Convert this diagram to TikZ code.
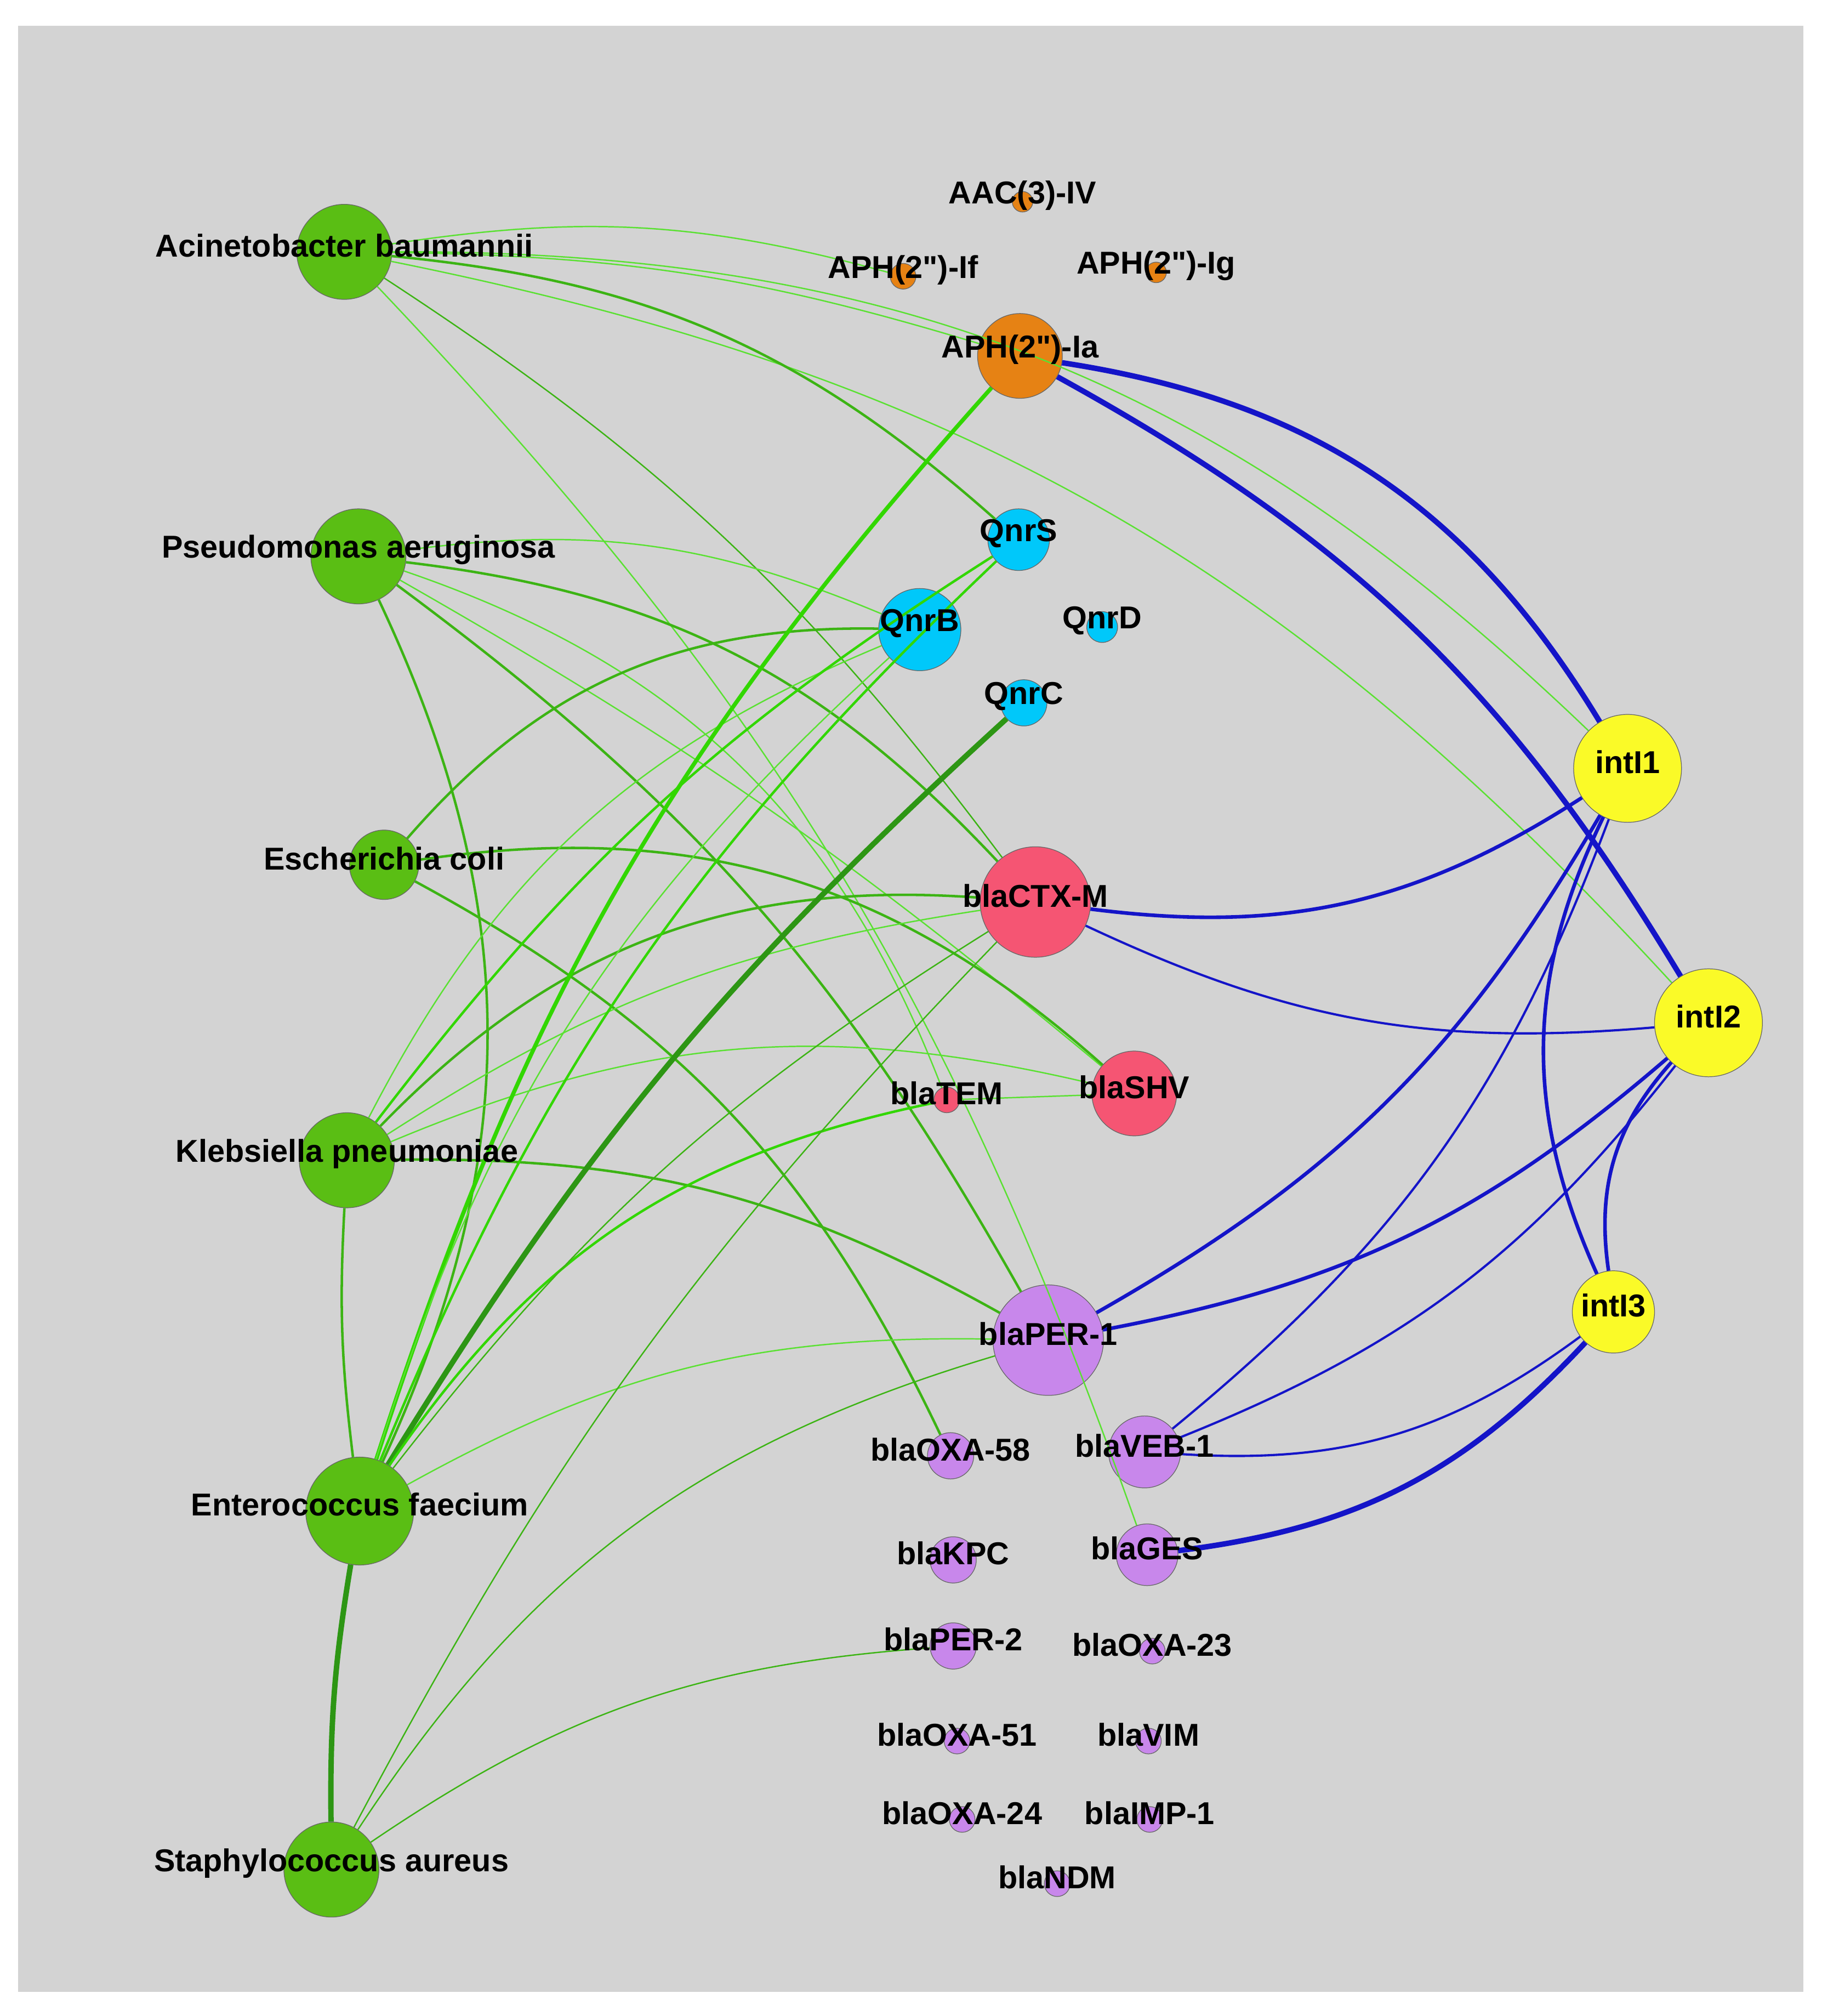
\documentclass[tikz,border=0pt]{standalone}
\usepackage{fontspec}
\setmainfont{Liberation Sans}
\definecolor{bgGray}{RGB}{211,211,211}
\definecolor{bactGreen}{RGB}{90,190,20}
\definecolor{aphOrange}{RGB}{230,130,20}
\definecolor{qnrCyan}{RGB}{0,200,250}
\definecolor{intYellow}{RGB}{250,250,40}
\definecolor{blaRed}{RGB}{245,85,115}
\definecolor{blaPurple}{RGB}{200,135,235}
\definecolor{eBright}{RGB}{50,215,0}
\definecolor{eMid}{RGB}{60,180,20}
\definecolor{eDark}{RGB}{45,150,20}
\definecolor{eLight}{RGB}{90,225,50}
\definecolor{eBlue}{RGB}{20,20,200}
\begin{document}
\begin{tikzpicture}[x=0.02cm,y=-0.02cm,
  nd/.style={circle,draw=black!60,line width=0.3pt,inner sep=0pt},
  bact/.style={nd,fill=bactGreen},
  aph/.style={nd,fill=aphOrange},
  qnr/.style={nd,fill=qnrCyan},
  int/.style={nd,fill=intYellow},
  red/.style={nd,fill=blaRed},
  pur/.style={nd,fill=blaPurple},
  lbl/.style={font=\fontsize{14}{16}\selectfont\bfseries,text=black,inner sep=0pt},
  thin/.style={eLight,line width=0.6pt},
  med/.style={eMid,line width=1.1pt},
  thk/.style={eBright,line width=1.8pt},
  bl/.style={eBlue,line width=1pt},
  blt/.style={eBlue,line width=2.4pt}]
\fill[white] (0,0) rectangle (1418,1569);
\fill[bgGray] (14,20) rectangle (1404,1550);
% nodes
\node[bact,minimum size=74*0.02cm] (ab) at (268,196) {};
\node[bact,minimum size=74*0.02cm] (pa) at (279,433) {};
\node[bact,minimum size=54*0.02cm] (ec) at (299,673) {};
\node[bact,minimum size=74*0.02cm] (kp) at (270,903) {};
\node[bact,minimum size=84*0.02cm] (ef) at (280,1176) {};
\node[bact,minimum size=74*0.02cm] (sa) at (258,1455) {};
\node[aph,minimum size=16*0.02cm] (aac) at (796,157) {};
\node[aph,minimum size=20*0.02cm] (aphf) at (703,215) {};
\node[aph,minimum size=16*0.02cm] (aphg) at (900,212) {};
\node[aph,minimum size=66*0.02cm] (apha) at (794,277) {};
\node[qnr,minimum size=48*0.02cm] (qs) at (793,420) {};
\node[qnr,minimum size=64*0.02cm] (qb) at (716,490) {};
\node[qnr,minimum size=24*0.02cm] (qd) at (858,488) {};
\node[qnr,minimum size=36*0.02cm] (qc) at (797,547) {};
\node[int,minimum size=84*0.02cm] (i1) at (1267,598) {};
\node[int,minimum size=84*0.02cm] (i2) at (1330,796) {};
\node[int,minimum size=64*0.02cm] (i3) at (1256,1021) {};
\node[red,minimum size=86*0.02cm] (ctx) at (806,702) {};
\node[red,minimum size=66*0.02cm] (shv) at (883,851) {};
\node[red,minimum size=20*0.02cm] (tem) at (737,856) {};
\node[pur,minimum size=86*0.02cm] (per1) at (816,1043) {};
\node[pur,minimum size=36*0.02cm] (oxa58) at (740,1133) {};
\node[pur,minimum size=56*0.02cm] (veb) at (891,1130) {};
\node[pur,minimum size=36*0.02cm] (kpc) at (742,1214) {};
\node[pur,minimum size=48*0.02cm] (ges) at (893,1210) {};
\node[pur,minimum size=36*0.02cm] (per2) at (742,1281) {};
\node[pur,minimum size=20*0.02cm] (oxa23) at (897,1285) {};
\node[pur,minimum size=20*0.02cm] (oxa51) at (745,1355) {};
\node[pur,minimum size=20*0.02cm] (vim) at (894,1355) {};
\node[pur,minimum size=20*0.02cm] (oxa24) at (749,1416) {};
\node[pur,minimum size=20*0.02cm] (imp) at (895,1416) {};
\node[pur,minimum size=20*0.02cm] (ndm) at (823,1466) {};
% green edges
\draw[thin] (ab) to[bend left=22] (i1);
\draw[thin] (ab) to[bend left=18] (i2);
\draw[thin] (ab) to[bend left=12] (aphf);
\draw[thin] (ab) to[bend left=8] (apha);
\draw[med] (ab) to[bend left=18] (qs);
\draw[thin,eMid] (ab) to[bend left=10] (ctx);
\draw[thin] (ab) to[bend left=12] (ges);
\draw[thin] (pa) to[bend left=25] (tem);
\draw[thin] (pa) to[bend left=15] (qb);
\draw[med] (pa) to[bend left=20] (ctx);
\draw[med] (pa) to[bend left=12] (per1);
\draw[thin] (pa) to[bend left=5] (shv);
\draw[med] (pa) to[bend left=25] (ef);
\draw[med] (ec) to[bend left=25] (qb);
\draw[med] (ec) to[bend left=25] (shv);
\draw[med] (ec) to[bend left=18] (oxa58);
\draw[thin] (kp) to[bend left=20] (qb);
\draw[med,eBright] (kp) to[bend left=10] (qs);
\draw[med] (kp) to[bend left=25] (ctx);
\draw[thin] (kp) to[bend left=18] (shv);
\draw[med] (kp) to[bend left=15] (per1);
\draw[thin] (kp) to[bend left=12] (ctx);
\draw[thk] (ef) to[bend left=12] (apha);
\draw[med,eBright] (ef) to[bend left=12] (qs);
\draw[line width=2.4pt,eDark] (ef) to[bend left=8] (qc);
\draw[thin] (ef) to[bend left=15] (qb);
\draw[med,eBright] (ef) to[bend left=22] (tem);
\draw[thin] (ef) to[bend left=15] (per1);
\draw[thin,eMid] (ef) to[bend left=10] (ctx);
\draw[med] (ef) to[bend left=5] (kp);
\draw[line width=2.4pt,eDark] (sa) to[bend left=5] (ef);
\draw[thin,eMid] (sa) to[bend left=15] (per2);
\draw[thin,eMid] (sa) to[bend left=20] (per1);
\draw[thin,eMid] (sa) to[bend left=8] (ctx);
\draw[thin] (tem) -- (shv);
% blue edges
\draw[blt] (apha) to[bend left=25] (i1);
\draw[blt] (apha) to[bend left=15] (i2);
\draw[bl,line width=1.6pt] (ctx) to[bend right=20] (i1);
\draw[bl] (ctx) to[bend right=15] (i2);
\draw[bl,line width=1.6pt] (per1) to[bend right=15] (i1);
\draw[bl,line width=1.6pt] (per1) to[bend right=15] (i2);
\draw[bl] (veb) to[bend right=15] (i1);
\draw[bl] (veb) to[bend right=15] (i2);
\draw[bl] (veb) to[bend right=20] (i3);
\draw[blt] (ges) to[bend right=20] (i3);
\draw[bl,line width=1.6pt] (i1) to[bend right=25] (i3);
\draw[bl,line width=1.6pt] (i2) to[bend right=25] (i3);
% labels
\foreach \n/\t in {ab/Acinetobacter baumannii,pa/Pseudomonas aeruginosa,
  ec/Escherichia coli,kp/Klebsiella pneumoniae,ef/Enterococcus faecium,
  sa/Staphylococcus aureus,aac/AAC(3)-IV,aphf/APH(2\textquotedbl)-If,aphg/APH(2\textquotedbl)-Ig,
  apha/APH(2\textquotedbl)-Ia,qs/QnrS,qb/QnrB,qd/QnrD,qc/QnrC,i1/intI1,i2/intI2,i3/intI3,
  ctx/blaCTX-M,shv/blaSHV,tem/blaTEM,per1/blaPER-1,oxa58/blaOXA-58,veb/blaVEB-1,
  kpc/blaKPC,ges/blaGES,per2/blaPER-2,oxa23/blaOXA-23,oxa51/blaOXA-51,vim/blaVIM,
  oxa24/blaOXA-24,imp/blaIMP-1,ndm/blaNDM}
  \node[lbl] (\n-t) at ([yshift=0.1cm]\n.center) {\t};
\end{tikzpicture}
\end{document}
